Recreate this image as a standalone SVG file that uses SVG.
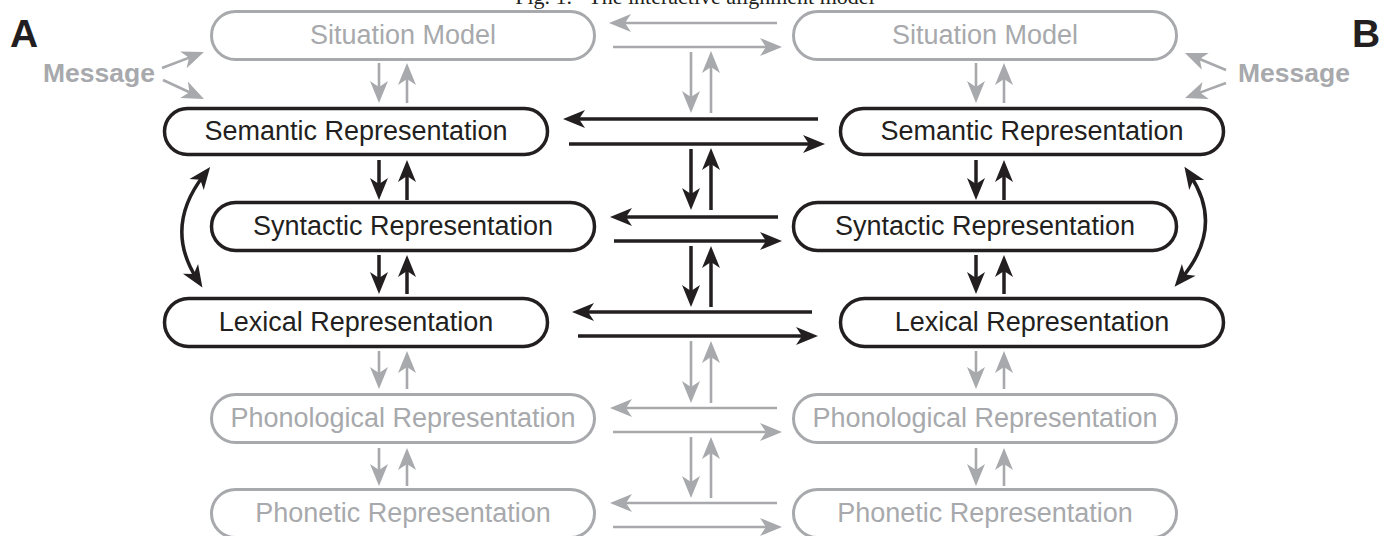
<svg xmlns="http://www.w3.org/2000/svg" width="1379" height="536" viewBox="0 0 1379 536">
<style>
  .nb rect{fill:none;stroke:#231f20;stroke-width:3.5}
  .ng rect{fill:none;stroke:#a7a9ac;stroke-width:3}
  .nb text{fill:#231f20}
  .ng text{fill:#a7a9ac}
  text{font-family:"Liberation Sans",Arial,sans-serif;font-size:27px;text-anchor:middle}
  .bk{fill:none;stroke:#231f20;stroke-width:3.5;marker-end:url(#ab)}
  .gr{fill:none;stroke:#a7a9ac;stroke-width:2.6;marker-end:url(#ag)}
  .dbl{marker-start:url(#ab);marker-end:url(#ab)}
  .lbl{font-weight:bold}
</style>
<defs>
  <marker id="ab" markerUnits="userSpaceOnUse" markerWidth="22" markerHeight="18" refX="12" refY="9" orient="auto-start-reverse" overflow="visible">
    <path d="M0,0 L22,9 L0,18 L6,9 Z" fill="#231f20"/>
  </marker>
  <marker id="ag" markerUnits="userSpaceOnUse" markerWidth="22" markerHeight="18" refX="12" refY="9" orient="auto-start-reverse" overflow="visible">
    <path d="M0,0 L22,9 L0,18 L6,9 Z" fill="#a7a9ac"/>
  </marker>
</defs>

<text x="695" y="4" style="font-family:'Liberation Serif','Times New Roman',serif;font-size:22px;fill:#231f20" xml:space="preserve">Fig. 1.   The interactive alignment model</text>

<text x="10" y="47" class="lbl" style="font-size:39px;text-anchor:start;fill:#231f20">A</text>
<text x="1352" y="47" class="lbl" style="font-size:39px;text-anchor:start;fill:#231f20">B</text>
<text x="99" y="82" class="lbl" style="font-size:26.5px;fill:#a7a9ac">Message</text>
<text x="1294" y="82" class="lbl" style="font-size:26.5px;fill:#a7a9ac">Message</text>

<!-- Left column (A) -->
<g id="A-situation" class="ng"><rect x="211.5" y="11.5" width="383" height="48" rx="24"/><text x="403" y="44">Situation Model</text></g>
<g id="A-semantic" class="nb"><rect x="164.5" y="108.5" width="383" height="46" rx="23"/><text x="356" y="140">Semantic Representation</text></g>
<g id="A-syntactic" class="nb"><rect x="211.5" y="202.5" width="383" height="48" rx="24"/><text x="403" y="235">Syntactic Representation</text></g>
<g id="A-lexical" class="nb"><rect x="164.5" y="298.5" width="383" height="48" rx="24"/><text x="356" y="331">Lexical Representation</text></g>
<g id="A-phonological" class="ng"><rect x="211.5" y="394.5" width="383" height="48" rx="24"/><text x="403" y="427">Phonological Representation</text></g>
<g id="A-phonetic" class="ng"><rect x="211.5" y="489.5" width="383" height="48" rx="24"/><text x="403" y="522">Phonetic Representation</text></g>

<!-- Right column (B) -->
<g id="B-situation" class="ng"><rect x="793.5" y="11.5" width="383" height="48" rx="24"/><text x="985" y="44">Situation Model</text></g>
<g id="B-semantic" class="nb"><rect x="840.5" y="108.5" width="383" height="46" rx="23"/><text x="1032" y="140">Semantic Representation</text></g>
<g id="B-syntactic" class="nb"><rect x="793.5" y="202.5" width="383" height="48" rx="24"/><text x="985" y="235">Syntactic Representation</text></g>
<g id="B-lexical" class="nb"><rect x="840.5" y="298.5" width="383" height="48" rx="24"/><text x="1032" y="331">Lexical Representation</text></g>
<g id="B-phonological" class="ng"><rect x="793.5" y="394.5" width="383" height="48" rx="24"/><text x="985" y="427">Phonological Representation</text></g>
<g id="B-phonetic" class="ng"><rect x="793.5" y="489.5" width="383" height="48" rx="24"/><text x="985" y="522">Phonetic Representation</text></g>

<g id="connectors">
  <!-- message arrows -->
  <path class="gr" d="M162,68 L194.6,55.6"/>
  <path class="gr" d="M163,80 L194.9,94.8"/>
  <path class="gr" d="M1226,70 L1194.2,56.8"/>
  <path class="gr" d="M1226,83 L1194.4,94.6"/>

  <!-- left column vertical pairs -->
  <path class="gr" d="M379,63 V93"/><path class="gr" d="M407,103 V73"/>
  <path class="bk" d="M379,160 V190"/><path class="bk" d="M407,200 V170"/>
  <path class="bk" d="M379,255 V284"/><path class="bk" d="M407,294 V265"/>
  <path class="gr" d="M379,351 V379"/><path class="gr" d="M407,389 V361"/>
  <path class="gr" d="M379,448 V476"/><path class="gr" d="M407,486 V458"/>

  <!-- right column vertical pairs -->
  <path class="gr" d="M976,63 V93"/><path class="gr" d="M1004,103 V73"/>
  <path class="bk" d="M976,160 V190"/><path class="bk" d="M1004,200 V170"/>
  <path class="bk" d="M976,255 V284"/><path class="bk" d="M1004,294 V265"/>
  <path class="gr" d="M976,351 V379"/><path class="gr" d="M1004,389 V361"/>
  <path class="gr" d="M976,448 V476"/><path class="gr" d="M1004,486 V458"/>

  <!-- middle horizontal arrows -->
  <path class="gr" d="M777,23 H619"/><path class="gr" d="M613,47 H772"/>
  <path class="bk" d="M818,119 H573"/><path class="bk" d="M569,144 H815"/>
  <path class="bk" d="M778,217 H620"/><path class="bk" d="M614,241 H772"/>
  <path class="bk" d="M812,312 H582"/><path class="bk" d="M578,336 H808"/>
  <path class="gr" d="M777,408 H620"/><path class="gr" d="M613,432 H772"/>
  <path class="gr" d="M777,503 H620"/><path class="gr" d="M613,527 H772"/>

  <!-- middle vertical pairs -->
  <path class="gr" d="M691,52 V103"/><path class="gr" d="M711,113 V61"/>
  <path class="bk" d="M691,149 V200"/><path class="bk" d="M711,210 V158"/>
  <path class="bk" d="M691,246 V297"/><path class="bk" d="M711,307 V256"/>
  <path class="gr" d="M691,341 V393"/><path class="gr" d="M711,403 V351"/>
  <path class="gr" d="M691,437 V488"/><path class="gr" d="M711,498 V447"/>

  <!-- curved double arrows -->
  <path class="bk dbl" d="M204,175 Q163.5,227 197,279"/>
  <path class="bk dbl" d="M1190,175 Q1225,227 1181,279"/>
</g>
</svg>
